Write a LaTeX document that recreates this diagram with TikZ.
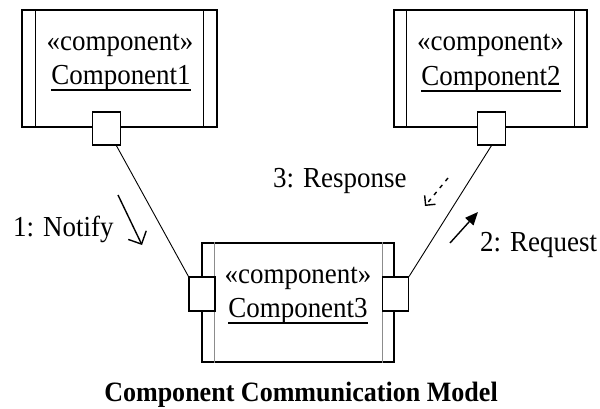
\documentclass[tikz,border=0pt]{standalone}
\usepackage{graphicx}
\usepackage{fontspec}
\setmainfont{Liberation Serif}
\usetikzlibrary{arrows.meta}
% text set slightly narrow, as in the drawing's typeface
\newcommand{\nar}[1]{\scalebox{0.93}[1]{#1}}
\begin{document}
\begin{tikzpicture}[x=1pt,y=-1pt,
  comp/.style={draw, line width=1.3pt, fill=white, inner sep=0pt},
  port/.style={draw, line width=1.1pt, fill=white, inner sep=0pt,
               minimum width=28pt, minimum height=33pt},
  bar/.style={line width=1.3pt},
  lightbar/.style={line width=1.4pt, draw=black!45},
  lbl/.style={font=\fontsize{29}{32}\selectfont, inner sep=0pt},
  uline/.style={line width=1.5pt},
  wire/.style={line width=0.9pt},
  msg/.style={line width=1.4pt}]
\useasboundingbox (0,0) rectangle (600,409);

% Component1
\node[comp, minimum width=195pt, minimum height=117pt] (c1) at (119.5,68.5) {};
\draw[bar] ([xshift=14pt]c1.north west) -- ([xshift=14pt]c1.south west);
\draw[bar] ([xshift=-14pt]c1.north east) -- ([xshift=-14pt]c1.south east);
\node[lbl, anchor=base] (s1) at (120,50.5) {\nar{«component»}};
\node[lbl, anchor=base] (n1) at (121,85) {\nar{Component1}};
\draw[uline] ([yshift=-5pt]n1.base west) -- ([yshift=-5pt]n1.base east);
\node[port] (p1) at (106.5,128.5) {};

% Component2
\node[comp, minimum width=193pt, minimum height=117pt] (c2) at (490.5,68.5) {};
\draw[bar] ([xshift=13pt]c2.north west) -- ([xshift=13pt]c2.south west);
\draw[bar] ([xshift=-13pt]c2.north east) -- ([xshift=-13pt]c2.south east);
\node[lbl, anchor=base] (s2) at (490.5,50.5) {\nar{«component»}};
\node[lbl, anchor=base] (n2) at (491,86) {\nar{Component2}};
\draw[uline] ([yshift=-5pt]n2.base west) -- ([yshift=-5pt]n2.base east);
\node[port] (p2) at (491.5,128.5) {};

% Component3
\node[comp, minimum width=192pt, minimum height=119pt] (c3) at (298,302.5) {};
\draw[lightbar] ([xshift=13pt]c3.north west) -- ([xshift=13pt]c3.south west);
\draw[lightbar] ([xshift=-12pt]c3.north east) -- ([xshift=-12pt]c3.south east);
\node[lbl, anchor=base] (s3) at (298,283) {\nar{«component»}};
\node[lbl, anchor=base] (n3) at (298,317) {\nar{Component3}};
\draw[uline] ([yshift=-6pt]n3.base west) -- ([yshift=-6pt]n3.base east);
\node[port, minimum width=26pt, minimum height=34pt] (p3l) at (202,294) {};
\node[port, minimum width=26pt, minimum height=34pt] (p3r) at (395.5,294) {};

% connectors between ports
\draw[wire] (p1.-60) -- (p3l.north west);
\draw[wire] (p2.south) -- (p3r.north east);

% messages
\coordinate (m1s) at (118,195);
\coordinate (m1e) at (142,245);
\draw[msg, -{Straight Barb[length=10pt,width=20pt]}] (m1s) -- (m1e);
\node[lbl, anchor=base west] (l1) at (13,236) {\nar{1: Notify}};

\coordinate (m3s) at (448,178);
\coordinate (m3e) at (425,206);
\draw[msg, dash pattern=on 4pt off 5pt, -{Straight Barb[length=7pt,width=14pt]}] (m3s) -- (m3e);
\node[lbl, anchor=base west] (l3) at (273,187) {\nar{3: Response}};

\coordinate (m2s) at (450,243);
\coordinate (m2e) at (478,212);
\draw[msg, -{Triangle[length=13pt,width=11pt]}] (m2s) -- (m2e);
\node[lbl, anchor=base west] (l2) at (480,251) {\nar{2: Request}};

% caption
\node[lbl, font=\fontsize{28}{31}\selectfont\bfseries, anchor=base] (cap) at (301,401) {\nar{Component Communication Model}};
\end{tikzpicture}
\end{document}
